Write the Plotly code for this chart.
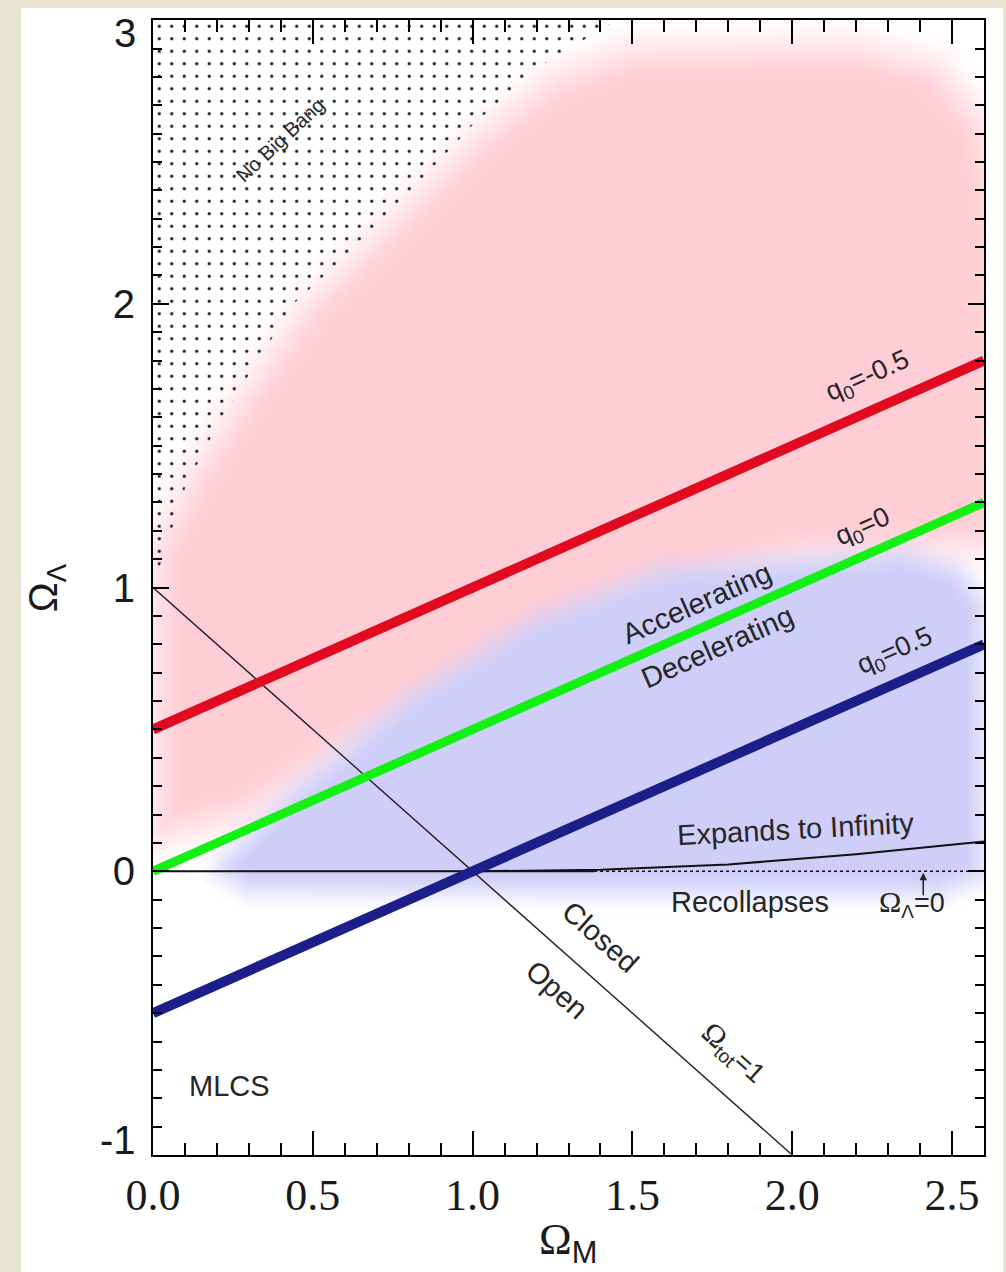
import numpy as np
import plotly.graph_objects as go

# ---------------------------------------------------------------- data
# deceleration-parameter lines  q0 = Omega_M/2 - Omega_L
Q0_M = [0.0, 2.6]
Q0_NEG_HALF_L = [0.5, 1.8]      # q0 = -0.5
Q0_ZERO_L = [0.0, 1.3]          # q0 = 0
Q0_POS_HALF_L = [-0.5, 0.8]     # q0 = 0.5

# flat universe, Omega_tot = 1
FLAT_M = [0.0, 2.0]
FLAT_L = [1.0, -1.0]

# Omega_Lambda = 0 reference line (solid part, dotted part)
ZERO_SOLID_M = [0.0, 1.38]
ZERO_DOTTED_M = [1.38, 2.55]

# expand-forever / recollapse boundary
RECOLLAPSE_M = [1.0, 1.4, 1.8, 2.2, 2.6]
RECOLLAPSE_L = [0.0, 0.005, 0.024, 0.06, 0.105]

# "No Big Bang" region edge
NBB_M = [0.0, 0.1, 0.2, 0.3, 0.44, 0.7, 1.0, 1.2, 1.45]
NBB_L = [1.0, 1.35, 1.57, 1.75, 2.0, 2.27, 2.63, 2.83, 3.0]

# outlines of the shaded confidence areas
PINK_M = [0.0, 0.12, 0.28, 0.48, 0.75, 1.0, 1.25, 1.5, 2.2, 2.45, 2.6, 2.66, 2.66,
          2.0, 1.5, 1.0, 0.6, 0.3, 0.0]
PINK_L = [1.12, 1.4, 1.68, 2.0, 2.3, 2.58, 2.8, 2.9, 2.91, 2.84, 2.64, 2.3, 1.15,
          1.1, 0.95, 0.65, 0.42, 0.2, 0.12]
BLUE_M = [0.22, 0.45, 0.8, 1.2, 1.6, 2.35, 2.52, 2.6, 2.6, 2.45, 0.3, 0.2]
BLUE_L = [0.05, 0.3, 0.62, 0.9, 1.07, 1.13, 1.07, 0.95, -0.02, -0.08, -0.07, 0.0]

X_TICKS = [0.0, 0.5, 1.0, 1.5, 2.0, 2.5]
X_TICK_TEXT = ["0.0", "0.5", "1.0", "1.5", "2.0", "2.5"]
Y_TICKS = [-1, 0, 1, 2, 3]
Y_TICK_TEXT = ["", "0", "1", "2", ""]   # end labels are set inside the frame edge below
Y_END_LABELS = [("3", 0.9885), ("-1", 0.0132)]

X_RANGE = [0.0, 2.6]
Y_RANGE = [-1.0, 3.0005]

PINK = (255, 205, 213)
BLUE = (206, 206, 249)
SANS = "Liberation Sans, Arial, sans-serif"
SERIF = "Liberation Serif, Times New Roman, serif"
TXT = "#262626"


# ---------------------------------------------------------------- soft shading
def soft_mask(poly_x, poly_y, gx, gy, width):
    """Feathered inside/outside mask of a closed polygon."""
    n = len(poly_x)
    inside = np.zeros(gx.shape, dtype=bool)
    dmin = np.full(gx.shape, np.inf)
    for i in range(n):
        x1, y1 = poly_x[i], poly_y[i]
        x2, y2 = poly_x[(i + 1) % n], poly_y[(i + 1) % n]
        if y1 != y2:
            cross = ((y1 > gy) != (y2 > gy)) & (gx < (x2 - x1) * (gy - y1) / (y2 - y1) + x1)
            inside ^= cross
        dx, dy = x2 - x1, y2 - y1
        t = np.clip(((gx - x1) * dx + (gy - y1) * dy) / (dx * dx + dy * dy), 0, 1)
        d = np.hypot(gx - (x1 + t * dx), gy - (y1 + t * dy))
        dmin = np.minimum(dmin, d)
    sd = np.where(inside, dmin, -dmin)
    s = np.clip((sd + width) / (2 * width), 0, 1)
    return s * s * (3 - 2 * s)


ASPECT = 1.127  # x-unit length relative to y-unit length on screen
gxs = np.arange(0.0, 2.6001, 0.01)
gys = np.arange(-1.0, 3.0001, 0.01)
GX, GY = np.meshgrid(gxs * ASPECT, gys)

pink_z = np.round(soft_mask([m * ASPECT for m in PINK_M], PINK_L, GX, GY, 0.13), 3)
blue_z = np.round(soft_mask([m * ASPECT for m in BLUE_M], BLUE_L, GX, GY, 0.08), 3)


def rgba_scale(c):
    return [[0, "rgba(%d,%d,%d,0)" % c], [1, "rgba(%d,%d,%d,1)" % c]]


fig = go.Figure()

fig.add_trace(go.Heatmap(x=gxs, y=gys, z=pink_z, zmin=0, zmax=1, zsmooth="best",
                         colorscale=rgba_scale(PINK), showscale=False, hoverinfo="skip"))
fig.add_trace(go.Heatmap(x=gxs, y=gys, z=blue_z, zmin=0, zmax=1, zsmooth="best",
                         colorscale=rgba_scale(BLUE), showscale=False, hoverinfo="skip"))

# dotted "No Big Bang" area
nbb_x = [0.0] + NBB_M + [0.0]
nbb_y = [3.0] + NBB_L + [3.0]
fig.add_trace(go.Scatter(
    x=nbb_x, y=nbb_y, mode="lines", fill="toself",
    fillcolor="rgba(0,0,0,0)", line=dict(width=0),
    fillpattern=dict(shape=".", size=12.5, solidity=0.055, fgcolor="#222222",
                     bgcolor="rgba(0,0,0,0)", fgopacity=1),
    hoverinfo="skip", showlegend=False))

# thin reference lines
fig.add_trace(go.Scatter(x=FLAT_M, y=FLAT_L, mode="lines",
                         line=dict(color="#222222", width=1.4), hoverinfo="skip"))
fig.add_trace(go.Scatter(x=ZERO_SOLID_M, y=[0, 0], mode="lines",
                         line=dict(color="#111111", width=2), hoverinfo="skip"))
fig.add_trace(go.Scatter(x=ZERO_DOTTED_M, y=[0, 0], mode="lines",
                         line=dict(color="#111111", width=1.5, dash="dot"), hoverinfo="skip"))
fig.add_trace(go.Scatter(x=RECOLLAPSE_M, y=RECOLLAPSE_L, mode="lines",
                         line=dict(color="#111111", width=2), hoverinfo="skip"))

# q0 lines
fig.add_trace(go.Scatter(x=Q0_M, y=Q0_NEG_HALF_L, mode="lines",
                         line=dict(color="#E10A1E", width=10), hoverinfo="skip"))
fig.add_trace(go.Scatter(x=Q0_M, y=Q0_ZERO_L, mode="lines",
                         line=dict(color="#14F014", width=9), hoverinfo="skip"))
fig.add_trace(go.Scatter(x=Q0_M, y=Q0_POS_HALF_L, mode="lines",
                         line=dict(color="#1C1F8A", width=10), hoverinfo="skip"))

# ---------------------------------------------------------------- labels
Q_ANGLE = -23.9
FLAT_ANGLE = 41.6
OMEGA = "<span style='font-family:Liberation Serif;font-size:30px'>Ω</span>"
labels = [
    (2.238, 1.742, "q<sub>0</sub>=-0.5", Q_ANGLE, 27),
    (2.222, 1.21, "q<sub>0</sub>=0", Q_ANGLE, 27),
    (2.322, 0.772, "q<sub>0</sub>=0.5", Q_ANGLE, 27),
    (1.703, 0.945, "Accelerating", Q_ANGLE, 29),
    (1.765, 0.79, "Decelerating", Q_ANGLE, 29),
    (2.009, 0.148, "Expands to Infinity", -3, 29),
    (1.869, -0.109, "Recollapses", 0, 29),
    (1.399, -0.233, "Closed", FLAT_ANGLE, 29),
    (1.264, -0.42, "Open", FLAT_ANGLE, 29),
    (0.238, -0.758, "MLCS", 0, 29),
    (0.397, 2.578, "No Big Bang", -43, 20),
    (1.815, -0.642, OMEGA + "<sub>tot</sub>=1", FLAT_ANGLE, 27),
    (2.376, -0.113, OMEGA + "<sub>Λ</sub>=0", 0, 27),
]
for x, y, text, ang, size in labels:
    fig.add_annotation(x=x, y=y, xref="x", yref="y", text=text, showarrow=False,
                       textangle=ang, xanchor="center", yanchor="middle",
                       font=dict(family=SANS, size=size, color=TXT))

# end labels of the vertical axis, pulled inside the frame height
for text, ypos in Y_END_LABELS:
    fig.add_annotation(x=-0.0175, y=ypos, xref="paper", yref="paper", text=text,
                       showarrow=False, xanchor="right", yanchor="middle",
                       font=dict(family=SANS, size=40, color="#1a1a1a"))

# small arrow pointing to Omega_Lambda = 0
fig.add_annotation(x=2.41, y=-0.005, ax=2.41, ay=-0.09, xref="x", yref="y",
                   axref="x", ayref="y", text="", showarrow=True,
                   arrowhead=2, arrowsize=1, arrowwidth=1.5, arrowcolor="#222222")

# axis titles
fig.add_annotation(x=0.499, y=-0.077, xref="paper", yref="paper",
                   text="Ω<sub><span style='font-family:Liberation Sans'>M</span></sub>",
                   showarrow=False, xanchor="center", yanchor="middle",
                   font=dict(family=SERIF, size=44, color="#1a1a1a"))
fig.add_annotation(x=-0.129, y=0.50, xref="paper", yref="paper",
                   text="Ω<sub>Λ</sub>", textangle=-90,
                   showarrow=False, xanchor="center", yanchor="middle",
                   font=dict(family=SANS, size=40, color="#1a1a1a"))

# white panel on the textured page
fig.add_shape(type="rect", xref="paper", yref="paper",
              x0=-0.1588, x1=1.0229, y0=-0.11, y1=1.0106,
              fillcolor="white", line=dict(width=0), layer="below")

axis_common = dict(showgrid=False, zeroline=False, showline=True, linecolor="black",
                   linewidth=2, mirror="ticks", ticks="inside", tickcolor="black",
                   tickwidth=2, automargin=False)

fig.update_xaxes(range=X_RANGE, tickvals=X_TICKS, ticktext=X_TICK_TEXT, ticklen=24,
                 minor=dict(dtick=0.1, tick0=0, ticklen=12, tickwidth=1.5,
                            ticks="inside", tickcolor="black"),
                 tickfont=dict(family=SERIF, size=44, color="#1a1a1a"),
                 ticklabelstandoff=0, **axis_common)
fig.update_yaxes(range=Y_RANGE, tickvals=Y_TICKS, ticktext=Y_TICK_TEXT, ticklen=16,
                 minor=dict(dtick=0.1, tick0=0, ticklen=9, tickwidth=1.5,
                            ticks="inside", tickcolor="black"),
                 tickfont=dict(family=SANS, size=40, color="#1a1a1a"),
                 ticklabelstandoff=8, **axis_common)

fig.update_layout(width=1006, height=1272, showlegend=False,
                  margin=dict(l=153, r=22, t=20, b=117, autoexpand=False),
                  paper_bgcolor="#E7E4D2", plot_bgcolor="white")

fig.write_html("out.html")
